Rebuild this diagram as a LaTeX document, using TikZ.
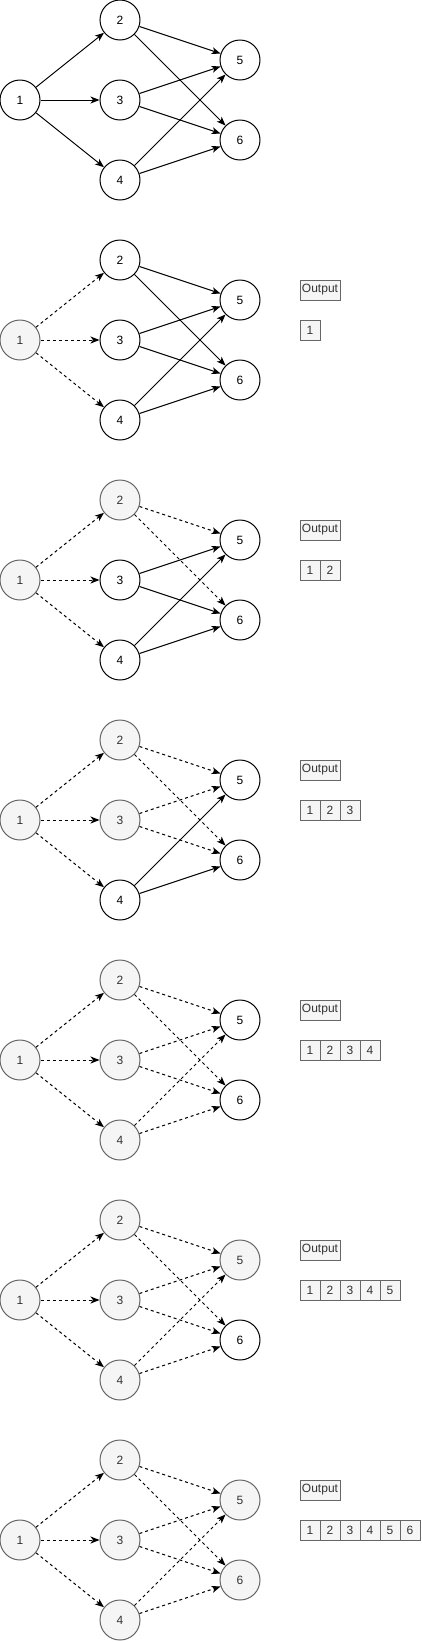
\documentclass[tikz,border=0pt]{standalone}
\usepackage{fontspec}
\setmainfont{Liberation Sans}
\usetikzlibrary{arrows.meta}
\definecolor{visfill}{HTML}{F5F5F5}
\definecolor{visdraw}{HTML}{666666}
\definecolor{vistext}{HTML}{333333}
\tikzset{
  unv/.style={circle,draw=black,fill=white,line width=1pt,minimum size=40pt,inner sep=0pt,font=\fontsize{12}{14}\selectfont,text=black},
  vis/.style={circle,draw=visdraw,fill=visfill,line width=1pt,minimum size=40pt,inner sep=0pt,font=\fontsize{12}{14}\selectfont,text=vistext},
  solidedge/.style={draw=black,line width=1pt,-{Stealth[length=9pt,width=7pt,inset=2.5pt]}},
  dashedge/.style={solidedge,dash pattern=on 3pt off 3pt},
  outbox/.style={rectangle,draw=visdraw,fill=visfill,line width=1pt,minimum width=40pt,minimum height=20pt,inner sep=0pt,font=\fontsize{12}{14}\selectfont,text=vistext},
  cellbox/.style={rectangle,draw=visdraw,fill=visfill,line width=1pt,minimum width=20pt,minimum height=20pt,inner sep=0pt,font=\fontsize{12}{14}\selectfont,text=vistext}
}
\begin{document}
\begin{tikzpicture}[x=1pt,y=-1pt]
\useasboundingbox (0,0) rectangle (421,1642);
\foreach \p in {0,...,6}{
  \begin{scope}[shift={(0,240*\p)}]
    \foreach \i/\x/\y in {1/20/100,2/120/20,3/120/100,4/120/180,5/240/60,6/240/140}{
      \ifnum\i>\p \def\st{unv}\else\def\st{vis}\fi
      \node[\st] (n\p-\i) at (\x,\y) {\i};
    }
    \foreach \a/\b in {1/2,1/3,1/4,2/5,2/6,3/5,3/6,4/5,4/6}{
      \ifnum\a>\p \def\es{solidedge}\else\def\es{dashedge}\fi
      \draw[\es] (n\p-\a) -- (n\p-\b);
    }
    \ifnum\p>0
      \node[outbox] (out\p) at (320,50) {Output};
      \foreach \c in {1,...,\p}{
        \node[cellbox] (c\p-\c) at ({290+20*\c},90) {\c};
      }
    \fi
  \end{scope}
}
\end{tikzpicture}
\end{document}
